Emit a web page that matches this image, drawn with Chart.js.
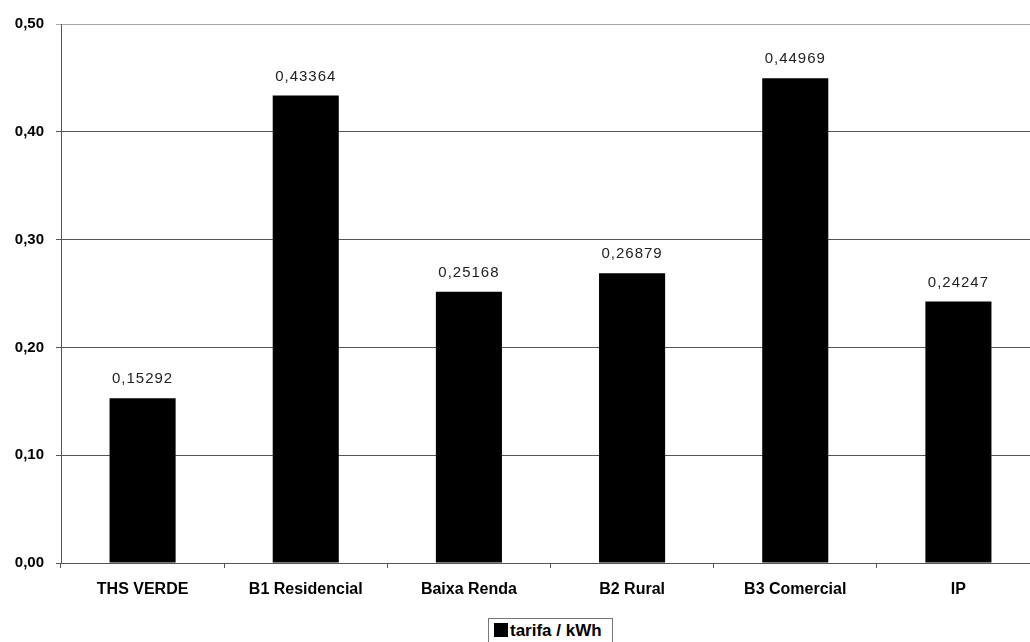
<!DOCTYPE html>
<html>
<head>
<meta charset="utf-8">
<script src="https://cdn.jsdelivr.net/npm/chart.js@4/dist/chart.umd.min.js"></script>
<style>
html,body{margin:0;padding:0;background:#fff;overflow:hidden;width:1030px;height:642px;}
#wrap{position:absolute;left:0;top:0;width:1040px;height:600px;}
#legend{position:absolute;left:488px;top:618px;width:125px;height:26px;border:1px solid #777;padding:0 0 0 5px;font:bold 17px "Liberation Sans",Arial,sans-serif;line-height:23px;color:#000;white-space:nowrap;box-sizing:border-box;}
#legend span.sw{display:inline-block;width:14px;height:14px;background:#000;margin-right:2px;vertical-align:-1px;}
</style>
</head>
<body>
<div id="wrap"><canvas id="c"></canvas></div>
<div id="legend"><span class="sw"></span>tarifa / kWh</div>
<script>
const categories = ["THS VERDE", "B1 Residencial", "Baixa Renda", "B2 Rural", "B3 Comercial", "IP"];
const seriesName = "tarifa / kWh";
const values = [0.15292, 0.43364, 0.25168, 0.26879, 0.44969, 0.24247];
const yTicks = [0, 0.1, 0.2, 0.3, 0.4, 0.5];

const fmt = (v, d) => v.toFixed(d).replace('.', ',');

const labelPlugin = {
  id: 'valueLabels',
  afterDatasetsDraw(chart) {
    const ctx = chart.ctx;
    ctx.save();
    ctx.font = '15px "Liberation Sans", Arial, sans-serif';
    ctx.letterSpacing = '1px';
    ctx.fillStyle = '#222';
    ctx.textAlign = 'center';
    ctx.textBaseline = 'middle';
    chart.getDatasetMeta(0).data.forEach((bar, i) => {
      ctx.fillText(fmt(values[i], 5), bar.x, bar.y - 19);
    });
    ctx.letterSpacing = '0px';
    ctx.restore();
  }
};

new Chart(document.getElementById('c'), {
  type: 'bar',
  data: {
    labels: categories,
    datasets: [{
      label: seriesName,
      data: values,
      backgroundColor: '#000',
      borderWidth: 0,
      categoryPercentage: 1,
      barPercentage: 0.405
    }]
  },
  options: {
    responsive: true,
    maintainAspectRatio: false,
    animation: false,
    layout: { padding: { top: 24, right: 0, left: 0, bottom: 0 } },
    plugins: { legend: { display: false }, tooltip: { enabled: false } },
    scales: {
      x: {
        grid: { display: true, drawOnChartArea: false, drawTicks: true, tickLength: 5, color: '#555', offset: true },
        border: { color: '#555', width: 1 },
        ticks: { color: '#000', padding: 12, font: { family: '"Liberation Sans", Arial, sans-serif', size: 16, weight: 'bold' }, maxRotation: 0 },
        afterFit(s) { s.height = 37; }
      },
      y: {
        min: 0, max: 0.5,
        afterBuildTicks(s) { s.ticks = yTicks.map(v => ({ value: v })); },
        grid: {
          drawTicks: true, tickLength: 5,
          color: (c) => (c.tick && Math.abs(c.tick.value - 0.5) < 1e-9) ? '#aaa' : '#555',
          lineWidth: 1
        },
        border: { color: '#555', width: 1 },
        ticks: {
          color: '#000', padding: 12,
          font: { family: '"Liberation Sans", Arial, sans-serif', size: 15, weight: 'bold' },
          callback: (v) => fmt(v, 2)
        },
        afterFit(s) { s.width = 61; }
      }
    }
  },
  plugins: [labelPlugin]
});
</script>
</body>
</html>
